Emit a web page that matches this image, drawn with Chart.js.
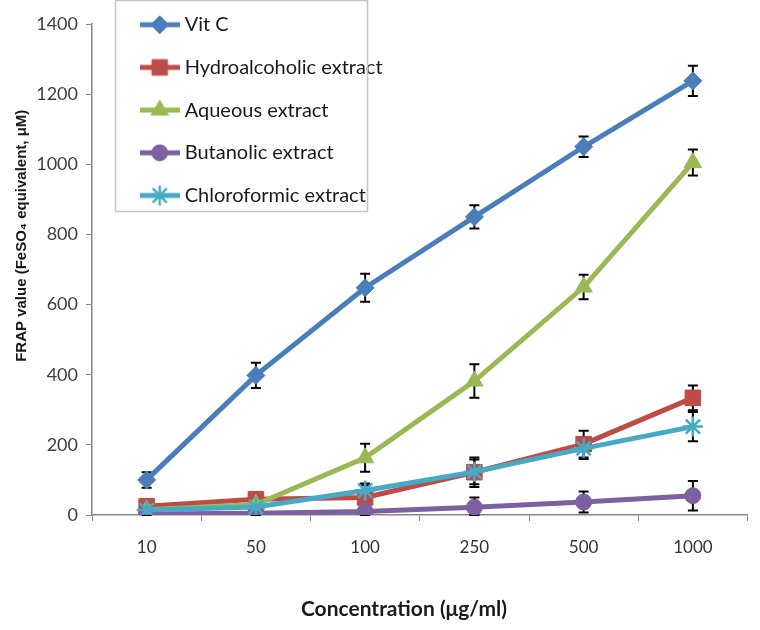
<!DOCTYPE html>
<html>
<head>
<meta charset="utf-8">
<script src="https://cdn.jsdelivr.net/npm/chart.js"></script>
<style>
  body { margin: 0; background: #fff; }
  #wrap { width: 760px; height: 630px; }
</style>
</head>
<body>
<div id="wrap"><canvas id="myChart" width="760" height="630"></canvas></div>
<script>
// FRAP values of the extracts vs concentration

const concentrations = ['10', '50', '100', '250', '500', '1000'];  // x-axis categories

const vitC = [100, 398, 648, 850, 1050, 1238];
const vitCErr = [22, 36, 40, 33, 29, 43];

const hydroalcoholic = [25, 45, 50, 122, 202, 334];
const hydroalcoholicErr = [10, 20, 35, 42, 38, 35];

const aqueous = [15, 30, 163, 382, 650, 1005];
const aqueousErr = [8, 15, 40, 48, 35, 37];

const butanolic = [3, 5, 10, 22, 37, 55];
const butanolicErr = [5, 8, 15, 28, 30, 42];

const chloroformic = [14, 23, 70, 123, 190, 252];
const chloroformicErr = [8, 10, 20, 35, 30, 42];

const yTicks = [0, 200, 400, 600, 800, 1000, 1200, 1400];

const LATO = 'Lato, "Open Sans", sans-serif';
const ARIAL = '"Liberation Sans", Arial, sans-serif';

// small line + marker picture used as legend symbol
function legendIcon(color, style, radius, borderWidth) {
    const c = document.createElement('canvas');
    c.width = 40;
    c.height = 22;
    const g = c.getContext('2d');
    g.strokeStyle = color;
    g.lineWidth = 5;
    g.beginPath();
    g.moveTo(0, 11);
    g.lineTo(40, 11);
    g.stroke();
    g.fillStyle = color;
    g.lineWidth = borderWidth;
    if (Chart.helpers && Chart.helpers.drawPoint) {
        Chart.helpers.drawPoint(g, {pointStyle: style, radius: radius, rotation: 0, borderWidth: borderWidth}, 20, 11);
    }
    return c;
}

const series = [
    {label: 'Vit C', data: vitC, errors: vitCErr, color: '#4A7EBB', style: 'rectRot', radius: 9, bw: 1},
    {label: 'Hydroalcoholic extract', data: hydroalcoholic, errors: hydroalcoholicErr, color: '#BE4B48', style: 'rect', radius: 11, bw: 1},
    {label: 'Aqueous extract', data: aqueous, errors: aqueousErr, color: '#98B954', style: 'triangle', radius: 10, bw: 1},
    {label: 'Butanolic extract', data: butanolic, errors: butanolicErr, color: '#7D60A0', style: 'circle', radius: 8, bw: 1},
    {label: 'Chloroformic extract', data: chloroformic, errors: chloroformicErr, color: '#46AAC5', style: 'star', radius: 10, bw: 2.5}
];

// black error bars, drawn under the markers
const errorBars = {
    id: 'errorBars',
    beforeDatasetsDraw(chart) {
        const ctx = chart.ctx;
        const y = chart.scales.y;
        ctx.save();
        ctx.strokeStyle = '#000';
        ctx.lineWidth = 2;
        chart.data.datasets.forEach((ds, i) => {
            const meta = chart.getDatasetMeta(i);
            meta.data.forEach((pt, j) => {
                const v = ds.data[j], e = ds.errors[j];
                const top = y.getPixelForValue(v + e);
                const bot = y.getPixelForValue(Math.max(0, v - e));
                ctx.beginPath();
                ctx.moveTo(pt.x, top); ctx.lineTo(pt.x, bot);
                ctx.moveTo(pt.x - 5, top); ctx.lineTo(pt.x + 5, top);
                ctx.moveTo(pt.x - 5, bot); ctx.lineTo(pt.x + 5, bot);
                ctx.stroke();
            });
        });
        ctx.restore();
    }
};

// put the legend at the top left, over the plot, in a framed box
const legendFrame = {
    id: 'legendFrame',
    afterLayout(chart) {
        const lg = chart.legend;
        const w = lg.width, h = lg.height;
        lg.left = 122; lg.top = -8;
        lg.right = lg.left + w; lg.bottom = lg.top + h;
    },
    afterDraw(chart) {
        const ctx = chart.ctx;
        ctx.save();
        ctx.strokeStyle = '#c4c4c4';
        ctx.lineWidth = 1.5;
        ctx.strokeRect(115.5, 0.5, 252, 211);
        ctx.restore();
    }
};

const ctx = document.getElementById('myChart');
const myChart = new Chart(ctx, {
    type: 'line',
    data: {
        labels: concentrations,
        datasets: series.map((s, i) => ({
            label: s.label,
            data: s.data,
            errors: s.errors,
            borderColor: s.color,
            backgroundColor: s.color,
            borderWidth: 5,
            pointStyle: s.style,
            pointRadius: s.radius,
            pointBorderWidth: s.bw,
            pointBackgroundColor: s.color,
            pointBorderColor: s.color,
            tension: 0,
            order: series.length - i,     // later series drawn on top
            icon: legendIcon(s.color, s.style, s.radius, s.bw)
        }))
    },
    options: {
        responsive: false,
        animation: false,
        layout: {
            padding: {top: 24, right: 3, bottom: 0, left: 0}
        },
        scales: {
            x: {
                offset: true,
                grid: {
                    offset: true,
                    drawOnChartArea: false,
                    tickLength: 6,
                    color: '#868686'
                },
                border: {color: '#868686', width: 1.5},
                ticks: {
                    color: '#333',
                    padding: 16,
                    font: {family: LATO, size: 17}
                },
                title: {
                    display: true,
                    text: 'Concentration (μg/ml)\u2003\u2003',
                    color: '#1a1a1a',
                    padding: {top: 0, bottom: 8},
                    font: {family: LATO, size: 21, weight: 'bold'}
                },
                afterFit(scale) { scale.height = 115; }
            },
            y: {
                min: 0,
                max: 1400,
                afterBuildTicks(scale) { scale.ticks = yTicks.map(v => ({value: v})); },
                grid: {
                    drawOnChartArea: false,
                    tickLength: 6,
                    color: '#868686'
                },
                border: {color: '#868686', width: 1.5},
                ticks: {
                    color: '#404040',
                    padding: 8,
                    font: {family: LATO, size: 18},
                    callback: v => String(v)
                },
                title: {
                    display: true,
                    text: '\u2003\u2003\u2003\u2003\u2002FRAP value (FeSO₄ equivalent, μM)',
                    color: '#1a1a1a',
                    padding: {top: 13, bottom: 0},
                    font: {family: ARIAL, size: 15, weight: 'bold'}
                },
                afterFit(scale) { scale.width = 92; }
            }
        },
        plugins: {
            legend: {
                position: 'chartArea',
                align: 'start',
                labels: {
                    usePointStyle: true,
                    pointStyleWidth: 30,
                    padding: 22.7,
                    color: '#1a1a1a',
                    font: {family: LATO, size: 20},
                    sort: (a, b) => a.datasetIndex - b.datasetIndex,
                    generateLabels(chart) {
                        const items = Chart.defaults.plugins.legend.labels.generateLabels(chart);
                        items.forEach(it => { it.pointStyle = chart.data.datasets[it.datasetIndex].icon; });
                        return items;
                    }
                }
            },
            tooltip: {enabled: false}
        }
    },
    plugins: [errorBars, legendFrame]
});
</script>
</body>
</html>
